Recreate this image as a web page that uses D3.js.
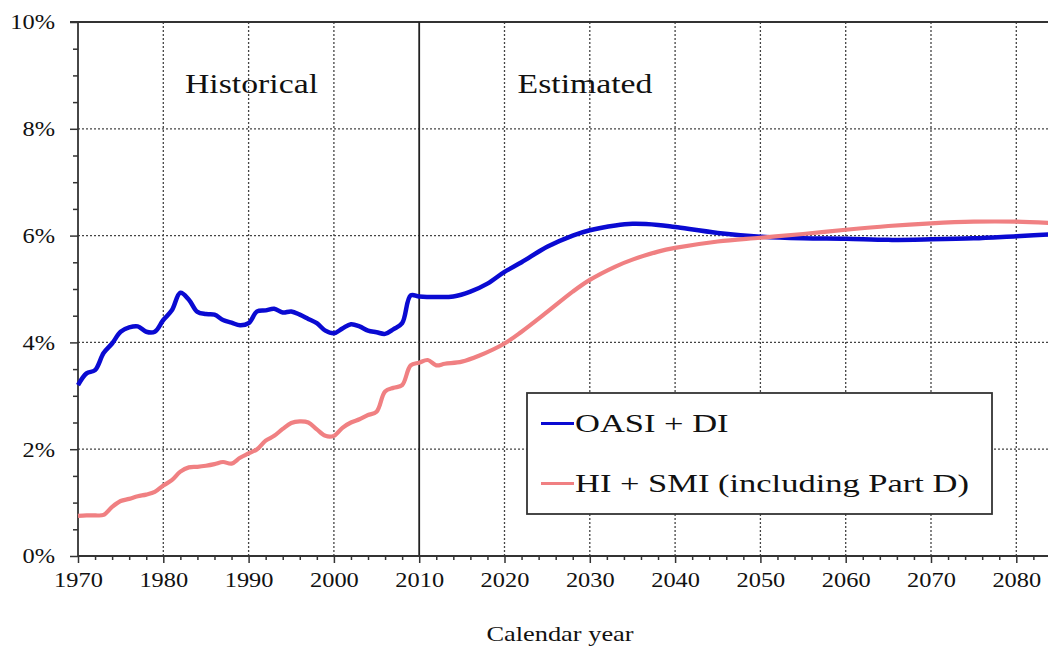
<!DOCTYPE html>
<html>
<head>
<meta charset="utf-8">
<script src="https://cdn.jsdelivr.net/npm/d3@7"></script>
<style>
  body { margin: 0; background: #fff; }
  svg { display: block; }
  svg text { font-family: "Liberation Serif", "Times New Roman", serif; }
</style>
</head>
<body>
<svg id="chart"></svg>
<script>
// OASI + DI cost as % of GDP
var oasiYears = [1970, 1971, 1972, 1973, 1974, 1975, 1976, 1977, 1978, 1979,
    1980, 1981, 1982, 1983, 1984, 1985, 1986, 1987, 1988, 1989,
    1990, 1991, 1992, 1993, 1994, 1995, 1996, 1997, 1998, 1999,
    2000, 2001, 2002, 2003, 2004, 2005, 2006, 2007, 2008, 2009, 2010,
    2012, 2014, 2016, 2018, 2020, 2022, 2025, 2028, 2030, 2033, 2035, 2038, 2040,
    2045, 2050, 2055, 2060, 2065, 2070, 2075, 2080, 2085];
var oasiValues = [3.2, 3.42, 3.48, 3.8, 3.98, 4.2, 4.28, 4.3, 4.2, 4.2,
    4.42, 4.6, 4.93, 4.8, 4.57, 4.53, 4.52, 4.42, 4.37, 4.32,
    4.36, 4.58, 4.6, 4.63, 4.56, 4.58, 4.52, 4.44, 4.36, 4.22,
    4.17, 4.26, 4.34, 4.3, 4.22, 4.19, 4.16, 4.25, 4.36, 4.88, 4.86,
    4.85, 4.86, 4.95, 5.1, 5.32, 5.5, 5.79, 6.0, 6.1, 6.19, 6.22, 6.2, 6.16,
    6.05, 5.98, 5.95, 5.94, 5.92, 5.93, 5.95, 5.99, 6.03];

// HI + SMI cost as % of GDP
var hiYears = [1970, 1971, 1972, 1973, 1974, 1975, 1976, 1977, 1978, 1979,
    1980, 1981, 1982, 1983, 1984, 1985, 1986, 1987, 1988, 1989,
    1990, 1991, 1992, 1993, 1994, 1995, 1996, 1997, 1998, 1999,
    2000, 2001, 2002, 2003, 2004, 2005, 2006, 2007, 2008, 2009, 2010,
    2011, 2012, 2013, 2015, 2017, 2020, 2022, 2025, 2028, 2030, 2033, 2035, 2038, 2040,
    2045, 2050, 2055, 2060, 2065, 2070, 2075, 2080, 2085];
var hiValues = [0.75, 0.76, 0.76, 0.77, 0.92, 1.03, 1.07, 1.12, 1.15, 1.2,
    1.32, 1.42, 1.58, 1.66, 1.67, 1.69, 1.72, 1.76, 1.73, 1.84,
    1.92, 2.0, 2.16, 2.25, 2.38, 2.49, 2.52, 2.5, 2.37, 2.25,
    2.25, 2.4, 2.5, 2.56, 2.64, 2.7, 3.08, 3.15, 3.2, 3.57, 3.62,
    3.67, 3.57, 3.6, 3.64, 3.75, 3.98, 4.2, 4.57, 4.95, 5.17, 5.42, 5.55, 5.7, 5.77,
    5.89, 5.96, 6.03, 6.11, 6.18, 6.23, 6.26, 6.26, 6.23];

var seriesNames = ["OASI + DI", "HI + SMI (including Part D)"];
var seriesColors = ["#0a0ad2", "#f08082"];
var yTicks = [0, 2, 4, 6, 8, 10];
var xTicks = [1970, 1980, 1990, 2000, 2010, 2020, 2030, 2040, 2050, 2060, 2070, 2080];
var periodLabels = ["Historical", "Estimated"];

var W = 1048, H = 648;
var m = { left: 78, top: 22, bottom: 556 };
var sx = 1.22; // horizontal stretch of the original text
var serif = '"Liberation Serif", "Times New Roman", serif';

var svg = d3.select("#chart").attr("width", W).attr("height", H);

var x = d3.scaleLinear().domain([1970, 2085]).range([m.left, m.left + 115 * 8.53]);
var y = d3.scaleLinear().domain([0, 10]).range([m.bottom, m.top]);

// Grid
var grid = svg.append("g");
grid.selectAll(".vg").data(xTicks.filter(function (d) { return d != 1970 && d != 2010; }))
    .enter().append("line")
    .attr("x1", function (d) { return x(d); }).attr("x2", function (d) { return x(d); })
    .attr("y1", m.top).attr("y2", m.bottom)
    .attr("stroke", "#444").attr("stroke-width", 1.3).attr("stroke-dasharray", "2,2");
grid.selectAll(".hg").data(yTicks.filter(function (d) { return d != 0 && d != 10; }))
    .enter().append("line")
    .attr("x1", m.left).attr("x2", W)
    .attr("y1", function (d) { return y(d); }).attr("y2", function (d) { return y(d); })
    .attr("stroke", "#444").attr("stroke-width", 1.3).attr("stroke-dasharray", "2,2");

// Top border and 2010 divider
svg.append("line").attr("x1", m.left - 8).attr("x2", W).attr("y1", y(10)).attr("y2", y(10))
    .attr("stroke", "#333").attr("stroke-width", 1.8);
svg.append("line").attr("x1", x(2010)).attr("x2", x(2010)).attr("y1", m.top).attr("y2", m.bottom)
    .attr("stroke", "#222").attr("stroke-width", 1.8);

// Axes
var yMinor = d3.range(0, 10.01, 0.5).filter(function (d) { return d % 2 != 0; });
var gYm = svg.append("g").attr("transform", "translate(" + m.left + ",0)")
    .call(d3.axisLeft(y).tickValues(yMinor).tickSize(5).tickFormat(""));
var gY = svg.append("g").attr("transform", "translate(" + m.left + ",0)")
    .call(d3.axisLeft(y).tickValues(yTicks).tickSize(8).tickFormat(function (d) { return d + "%"; }));

var xMinor = d3.range(1972, 2085, 2).filter(function (d) { return d % 10 != 0; });
var gXm = svg.append("g").attr("transform", "translate(0," + m.bottom + ")")
    .call(d3.axisBottom(x).tickValues(xMinor).tickSize(4).tickFormat(""));
var gX = svg.append("g").attr("transform", "translate(0," + m.bottom + ")")
    .call(d3.axisBottom(x).tickValues(xTicks).tickSize(7).tickFormat(d3.format("d")));

[gY, gYm, gX, gXm].forEach(function (g) {
    g.attr("font-family", serif);
    g.select(".domain").attr("stroke", "#333").attr("stroke-width", 1.8);
    g.selectAll(".tick line").attr("stroke", "#333").attr("stroke-width", 1.5);
});
gX.select(".domain").attr("d", "M" + m.left + ",0H" + W);
gY.select(".domain").attr("d", "M0," + m.bottom + "V" + m.top);
gYm.select(".domain").remove();
gXm.select(".domain").remove();

gY.selectAll(".tick text")
    .style("font-family", serif)
    .attr("font-size", 20).attr("fill", "#111")
    .attr("x", -23 / sx).attr("dy", "0.34em")
    .attr("transform", "scale(" + sx + ",1)");
gX.selectAll(".tick text")
    .style("font-family", serif)
    .attr("font-size", 20).attr("fill", "#111")
    .attr("y", 31).attr("dy", 0)
    .attr("transform", "scale(" + sx + ",1)");

// Lines
var line = d3.line()
    .x(function (d) { return x(d[0]); })
    .y(function (d) { return y(d[1]); })
    .curve(d3.curveCatmullRom);

var oasi = oasiYears.map(function (yr, i) { return [yr, oasiValues[i]]; });
var hi = hiYears.map(function (yr, i) { return [yr, hiValues[i]]; });

svg.append("path").attr("d", line(oasi))
    .attr("fill", "none").attr("stroke", seriesColors[0]).attr("stroke-width", 4.5)
    .attr("stroke-linejoin", "round");
svg.append("path").attr("d", line(hi))
    .attr("fill", "none").attr("stroke", seriesColors[1]).attr("stroke-width", 4.2)
    .attr("stroke-linejoin", "round");

// Stretched serif text, like the original picture
function stretchedText(txt, cx, cy, size, s, anchor) {
    svg.append("text")
        .attr("transform", "translate(" + cx + "," + cy + ") scale(" + s + ",1)")
        .attr("text-anchor", anchor || "middle")
        .style("font-family", serif)
        .attr("font-size", size).attr("fill", "#111")
        .text(txt);
}
stretchedText(periodLabels[0], 251.5, 93, 27, 1.25);
stretchedText(periodLabels[1], 585, 93, 27, 1.25);

// Axis title
stretchedText("Calendar year", 560, 641, 22, 1.2);

// Legend
svg.append("rect").attr("x", 527).attr("y", 393).attr("width", 465).attr("height", 121)
    .attr("fill", "#fff").attr("stroke", "#333").attr("stroke-width", 1.8);
var legY = [423.5, 483.5];
seriesNames.forEach(function (name, i) {
    svg.append("line").attr("x1", 541).attr("x2", 574)
        .attr("y1", legY[i]).attr("y2", legY[i])
        .attr("stroke", seriesColors[i]).attr("stroke-width", 3);
    stretchedText(name, 575, legY[i] + 8.5, 25, 1.38, "start");
});
</script>
</body>
</html>
